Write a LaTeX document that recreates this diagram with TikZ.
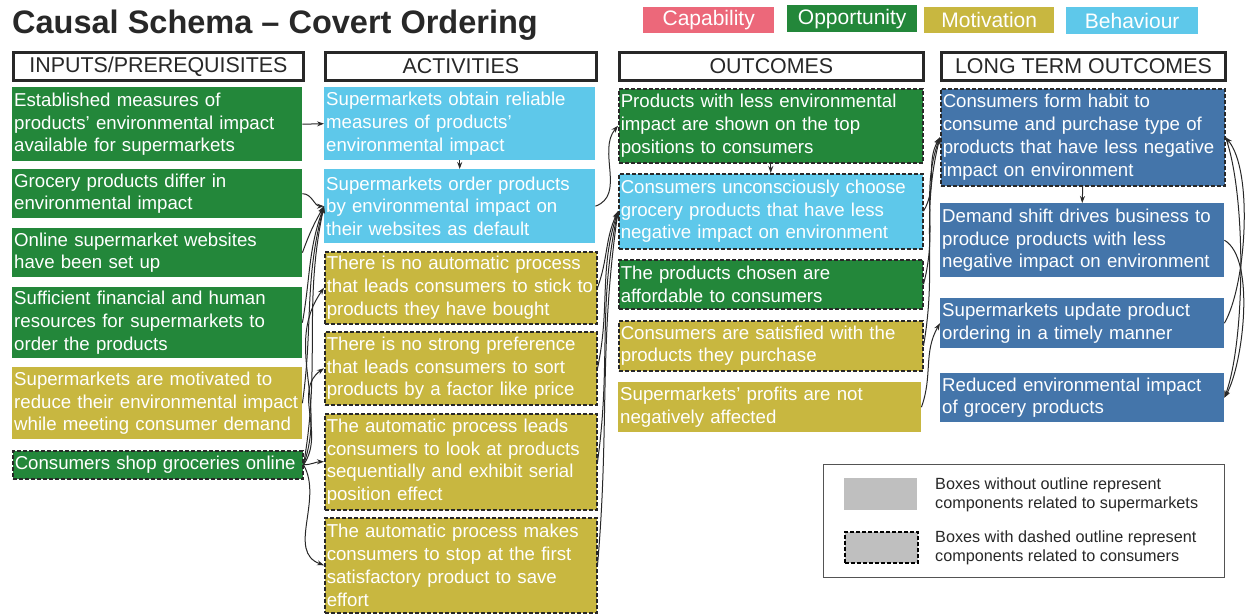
\documentclass[tikz,border=0pt]{standalone}
\usepackage{fontspec}
\setmainfont{Liberation Sans}
\usetikzlibrary{arrows.meta}

\definecolor{capcol}{RGB}{236,104,122}
\definecolor{oppcol}{RGB}{35,135,58}
\definecolor{motcol}{RGB}{200,183,64}
\definecolor{behcol}{RGB}{94,200,234}
\definecolor{ltocol}{RGB}{68,117,170}
\definecolor{inkcol}{RGB}{40,40,40}

% one unbreakable line of box text
\newcommand\boxline[1]{\mbox{#1}}

\tikzset{
  cbox/.style={anchor=north west, inner xsep=2pt, inner ysep=0pt, align=left,
    text=white, font=\fontsize{18.65}{22.8}\selectfont},
  consumer/.style={draw=inkcol, line width=1.5pt, dash pattern=on 4pt off 2pt},
  header/.style={anchor=north west, draw=inkcol, line width=2.8pt, inner sep=0pt,
    minimum height=28pt, text=inkcol, font=\fontsize{21.4}{24}\selectfont},
  keybox/.style={anchor=north west, inner sep=0pt, text=white,
    font=\fontsize{21}{24}\selectfont},
  conn/.style={draw=inkcol, line width=1pt, -{Stealth[length=7pt,width=5pt]}},
  keytext/.style={anchor=west, align=left, inner sep=0pt, text=inkcol,
    font=\fontsize{16.2}{19.5}\selectfont}
}

\begin{document}
\begin{tikzpicture}[x=1pt, y=-1pt]
\fill[white] (0,0) rectangle (1248,614);
\useasboundingbox (0,0) rectangle (1248,614);

% title and COM-B colour key
\node[anchor=base west, inner sep=0pt, text=inkcol, font=\fontsize{32.5}{36}\selectfont\bfseries]
  (title) at (12,33) {Causal Schema – Covert Ordering};
\node[keybox, fill=capcol, minimum width=131pt, minimum height=26pt] (kcap) at (643,7) {Capability};
\node[keybox, fill=oppcol, minimum width=130pt, minimum height=27pt] (kopp) at (787,5) {Opportunity};
\node[keybox, fill=motcol, minimum width=130pt, minimum height=26pt] (kmot) at (924,7) {Motivation};
\node[keybox, fill=behcol, minimum width=132pt, minimum height=27pt] (kbeh) at (1066,7) {Behaviour};

% column headers
\node[header, minimum width=290pt] (h1) at (12,51) {INPUTS/PREREQUISITES};
\node[header, minimum width=271pt] (h2) at (324,51) {ACTIVITIES};
\node[header, minimum width=304pt] (h3) at (618,51) {OUTCOMES};
\node[header, minimum width=284pt] (h4) at (940,51) {LONG TERM OUTCOMES};

% inputs / prerequisites
\node[cbox, fill=oppcol, minimum width=290pt, text width=286pt, minimum height=74pt] (a1) at (12,87)
  {\boxline{Established measures of}\\\boxline{products’ environmental impact}\\\boxline{available for supermarkets}};
\node[cbox, fill=oppcol, minimum width=290pt, text width=286pt, minimum height=49pt] (a2) at (12,169)
  {\boxline{Grocery products differ in}\\\boxline{environmental impact}};
\node[cbox, fill=oppcol, minimum width=290pt, text width=286pt, minimum height=49pt] (a3) at (12,228)
  {\boxline{Online supermarket websites}\\\boxline{have been set up}};
\node[cbox, fill=oppcol, minimum width=290pt, text width=286pt, minimum height=71pt] (a4) at (12,287)
  {\boxline{Sufficient financial and human}\\\boxline{resources for supermarkets to}\\\boxline{order the products}};
\node[cbox, fill=motcol, minimum width=290pt, text width=286pt, minimum height=72pt] (a5) at (12,367)
  {\boxline{Supermarkets are motivated to}\\\boxline{reduce their environmental impact}\\\boxline{while meeting consumer demand}};
\node[cbox, consumer, fill=oppcol, minimum width=290pt, text width=286pt, minimum height=28pt] (a6) at (12,450)
  {\boxline{Consumers shop groceries online}};

% activities
\node[cbox, fill=behcol, minimum width=271pt, text width=267pt, minimum height=73pt] (b1) at (324,87)
  {\boxline{Supermarkets obtain reliable}\\\boxline{measures of products’}\\\boxline{environmental impact}};
\node[cbox, fill=behcol, minimum width=271pt, text width=267pt, minimum height=74pt] (b2) at (324,169)
  {\boxline{Supermarkets order products}\\\boxline{by environmental impact on}\\\boxline{their websites as default}};
\node[cbox, consumer, fill=motcol, minimum width=272pt, text width=268pt, minimum height=72pt] (b3) at (324,251)
  {\boxline{There is no automatic process}\\\boxline{that leads consumers to stick to}\\\boxline{products they have bought}};
\node[cbox, consumer, fill=motcol, minimum width=272pt, text width=268pt, minimum height=73pt] (b4) at (324,331)
  {\boxline{There is no strong preference}\\\boxline{that leads consumers to sort}\\\boxline{products by a factor like price}};
\node[cbox, consumer, fill=motcol, minimum width=272pt, text width=268pt, minimum height=96pt] (b5) at (324,413)
  {\boxline{The automatic process leads}\\\boxline{consumers to look at products}\\\boxline{sequentially and exhibit serial}\\\boxline{position effect}};
\node[cbox, consumer, fill=motcol, minimum width=272pt, text width=268pt, minimum height=95pt] (b6) at (324,517)
  {\boxline{The automatic process makes}\\\boxline{consumers to stop at the first}\\\boxline{satisfactory product to save}\\\boxline{effort}};

% outcomes
\node[cbox, consumer, fill=oppcol, minimum width=304pt, text width=300pt, minimum height=74pt] (c1) at (618,88)
  {\boxline{Products with less environmental}\\\boxline{impact are shown on the top}\\\boxline{positions to consumers}};
\node[cbox, consumer, fill=behcol, minimum width=304pt, text width=300pt, minimum height=75pt] (c2) at (618,173)
  {\boxline{Consumers unconsciously choose}\\\boxline{grocery products that have less}\\\boxline{negative impact on environment}};
\node[cbox, consumer, fill=oppcol, minimum width=304pt, text width=300pt, minimum height=49pt] (c3) at (618,259)
  {\boxline{The products chosen are}\\\boxline{affordable to consumers}};
\node[cbox, consumer, fill=motcol, minimum width=304pt, text width=300pt, minimum height=50pt] (c4) at (618,320)
  {\boxline{Consumers are satisfied with the}\\\boxline{products they purchase}};
\node[cbox, fill=motcol, minimum width=303pt, text width=299pt, minimum height=50pt] (c5) at (618,382)
  {\boxline{Supermarkets’ profits are not}\\\boxline{negatively affected}};

% long term outcomes
\node[cbox, consumer, fill=ltocol, minimum width=284pt, text width=280pt, minimum height=97pt] (d1) at (940,88)
  {\boxline{Consumers form habit to}\\\boxline{consume and purchase type of}\\\boxline{products that have less negative}\\\boxline{impact on environment}};
\node[cbox, fill=ltocol, minimum width=284pt, text width=280pt, minimum height=74pt] (d2) at (940,203)
  {\boxline{Demand shift drives business to}\\\boxline{produce products with less}\\\boxline{negative impact on environment}};
\node[cbox, fill=ltocol, minimum width=284pt, text width=280pt, minimum height=50pt] (d3) at (940,298)
  {\boxline{Supermarkets update product}\\\boxline{ordering in a timely manner}};
\node[cbox, fill=ltocol, minimum width=284pt, text width=280pt, minimum height=49pt] (d4) at (940,373)
  {\boxline{Reduced environmental impact}\\\boxline{of grocery products}};

% connectors: inputs -> activities
\draw[conn] (a1.east) -- (b1.west);
\draw[conn] (a2.east) to[out=0, in=180] (b2.west);
\draw[conn] (a3.east) to[out=70, in=240] (b2.west);
\draw[conn] (a4.east) to[out=80, in=250] (b2.west);
\draw[conn] (a5.east) to[out=82, in=255] (b2.west);
\draw[conn] (a6.east) to[out=80, in=258] (b2.west);
\draw[conn] (a6.east) to[out=70, in=235] (b3.west);
\draw[conn] (a6.east) to[out=55, in=215] (b4.west);
\draw[conn] (a6.east) to[out=0, in=180] (b5.west);
\draw[conn] (a6.east) to[out=-60, in=160] (b6.west);
\draw[conn] (b1.south) -- (b2.north);

% activities -> outcomes
\draw[conn] (b2.east) to[out=20, in=230] (c1.west);
\draw[conn] (b3.east) to[out=70, in=245] (c2.west);
\draw[conn] (b4.east) to[out=78, in=252] (c2.west);
\draw[conn] (b5.east) to[out=82, in=258] (c2.west);
\draw[conn] (b6.east) to[out=85, in=262] (c2.west);
\draw[conn] (c1.south) -- (c2.north);

% outcomes -> long term outcomes
\draw[conn] (c2.east) to[out=60, in=240] (d1.west);
\draw[conn] (c3.east) to[out=75, in=250] (d1.west);
\draw[conn] (c4.east) to[out=80, in=256] (d1.west);
\draw[conn] (c5.east) to[out=70, in=240] (d3.west);
\draw[conn] (d1.south) -- (d2.north);
\draw[conn] (d3.east) to[out=60, in=-50, looseness=0.6] (d1.east);
\draw[conn] (d1.east) to[out=-70, in=70, looseness=0.6] (d4.east);
\draw[conn] (d2.east) to[out=-30, in=60, looseness=0.6] (d4.east);

% outline key
\node[draw=inkcol!80, line width=1pt, anchor=north west, inner sep=0pt,
  minimum width=401pt, minimum height=113pt] (key) at (823,464) {};
\node[anchor=north west, fill=black!25, inner sep=0pt, minimum width=73pt, minimum height=32pt] (ks1) at (844,478) {};
\node[anchor=north west, fill=black!25, draw=black, line width=1.5pt, dash pattern=on 4pt off 2pt,
  inner sep=0pt, minimum width=73pt, minimum height=31pt] (ks2) at (844,531) {};
\node[keytext] (kt1) at (935,495) {Boxes without outline represent\\components related to supermarkets};
\node[keytext] (kt2) at (935,548) {Boxes with dashed outline represent\\components related to consumers};
\end{tikzpicture}
\end{document}
